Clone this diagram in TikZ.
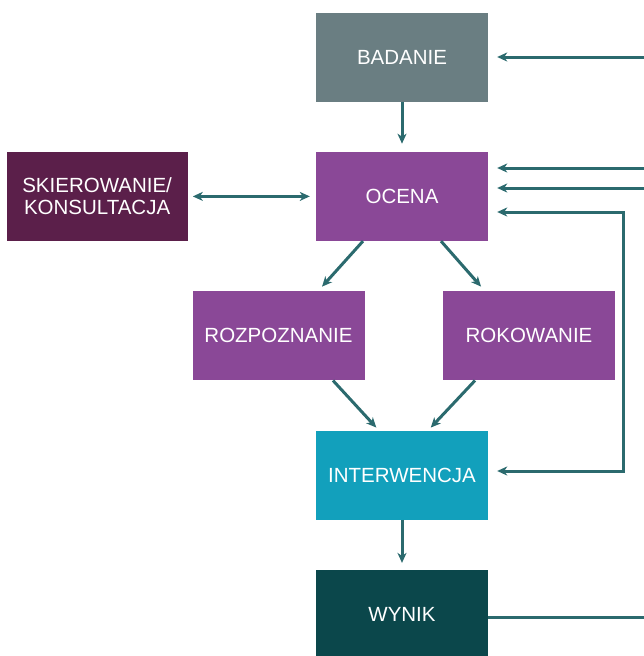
\documentclass[tikz,border=0pt]{standalone}
\usepackage{fontspec}
\setmainfont{Liberation Sans}
\usetikzlibrary{arrows.meta, calc, positioning}
\definecolor{badgray}{HTML}{6A7E82}
\definecolor{ocpurple}{HTML}{8A4897}
\definecolor{skmaroon}{HTML}{5B1F4A}
\definecolor{intcyan}{HTML}{12A0BC}
\definecolor{wyteal}{HTML}{0B474B}
\definecolor{linkteal}{HTML}{2B6A6E}
\tikzstyle{stage} = [rectangle, minimum width=172pt, minimum
height=89pt, inner sep=0pt, text centered, text=white, font=\fontsize{20.5}{24}\selectfont]
\tikzstyle{arrow} = [draw=linkteal, line width=3pt, ->, >={Stealth[length=10pt,width=9pt,inset=3pt]}]
\tikzstyle{line} = [draw=linkteal, line width=3pt]

\begin{document}
\begin{tikzpicture}[x=1pt, y=-1pt, node distance=50pt]
  \useasboundingbox (0,0) rectangle (644,656);
  \node (bad) [stage, fill=badgray] at (402,57) {BADANIE};
  \node (ocena) [stage, fill=ocpurple, below=of bad] {OCENA};
  \node (skier) [stage, fill=skmaroon, minimum width=181pt, text width=181pt, align=center, left=128pt of ocena] {SKIEROWANIE/\\[-2pt]KONSULTACJA};
  \node (rozp) [stage, fill=ocpurple, below=of ocena, xshift=-123.5pt] {ROZPOZNANIE};
  \node (rok) [stage, fill=ocpurple, below=of ocena, xshift=127pt] {ROKOWANIE};
  \node (interw) [stage, fill=intcyan, below=of rozp, xshift=123.5pt] {INTERWENCJA};
  \node (wynik) [stage, fill=wyteal, below=of interw] {WYNIK};

  % lines coming in from the right edge
  \coordinate (inBad) at (644,57);
  \coordinate (inOcA) at (644,168);
  \coordinate (inOcB) at (644,188);
  \coordinate (loopTop) at (623,212);
  \coordinate (loopBot) at (623,471);
  \coordinate (outWyn) at (644,617);

  \draw [arrow, shorten >=8pt] (bad) -- (ocena);
  \draw [arrow, <->, shorten <=5pt, shorten >=6pt] (skier) -- (ocena);
  \draw [arrow, shorten >=6pt] ([xshift=-39pt]ocena.south) -- ([xshift=39.5pt]rozp.north);
  \draw [arrow, shorten >=6pt] ([xshift=39pt]ocena.south) -- ([xshift=-44pt]rok.north);
  \draw [arrow, shorten >=4pt] ([xshift=54.5pt]rozp.south) -- ([xshift=-23pt]interw.north);
  \draw [arrow, shorten >=4pt] ([xshift=-54pt]rok.south) -- ([xshift=26pt]interw.north);
  \draw [arrow, shorten >=7pt] (interw) -- (wynik);

  \draw [arrow, shorten >=9pt] (inBad) -- (bad.east |- inBad);
  \draw [arrow, shorten >=9pt] (inOcA) -- (ocena.east |- inOcA);
  \draw [arrow, shorten >=9pt] (inOcB) -- (ocena.east |- inOcB);
  \draw [arrow, <->, shorten <=9pt, shorten >=9pt] (ocena.east |- loopTop) -- (loopTop) -- (loopBot) -- (interw.east |- loopBot);
  \draw [line] (wynik.east |- outWyn) -- (outWyn);
\end{tikzpicture}
\end{document}
